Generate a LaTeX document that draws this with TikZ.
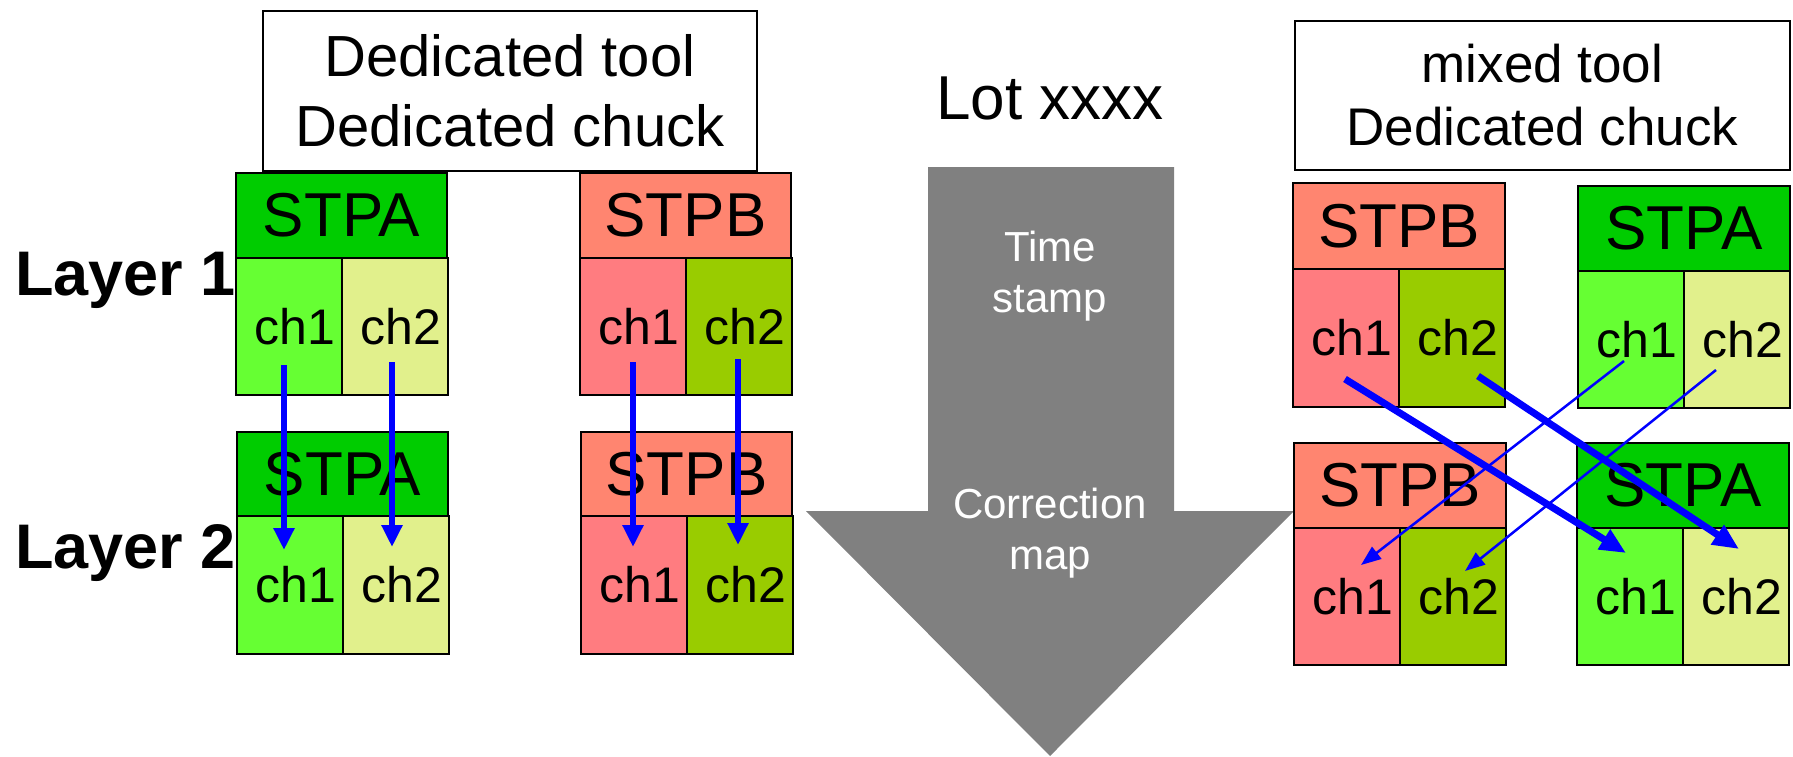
\documentclass[tikz,border=0pt]{standalone}
\usepackage{fontspec}
\setmainfont{Liberation Sans}
\usetikzlibrary{arrows.meta}
\definecolor{hdrA}{HTML}{00CC00}
\definecolor{chAone}{HTML}{66FF33}
\definecolor{chAtwo}{HTML}{E1F08C}
\definecolor{hdrB}{HTML}{FF8570}
\definecolor{chBone}{HTML}{FF7C80}
\definecolor{chBtwo}{HTML}{99CC00}
\definecolor{arrgray}{HTML}{808080}
\definecolor{pureblue}{HTML}{0000FF}
\begin{document}
\begin{tikzpicture}[x=1pt,y=-1pt,
  frame/.style={draw=black, line width=2.5pt, inner sep=0pt, outer sep=0pt},
  hdr/.style={frame, minimum width=211pt, minimum height=85pt, font=\fontsize{62}{74}\selectfont},
  cellbox/.style={frame, minimum width=106pt, minimum height=137pt, font=\fontsize{50}{60}\selectfont,
    execute at begin node={\hspace*{12pt}}},
  titlebox/.style={draw=black, line width=1.5pt, inner sep=0pt, align=center},
  layer/.style={font=\bfseries\fontsize{63}{75}\selectfont, inner sep=0pt, anchor=base east},
  graylabel/.style={text=white, align=center, font=\fontsize{42}{51}\selectfont, inner sep=0pt},
  vblue/.style={draw=pureblue, line width=6pt, -{Triangle[length=22pt,width=20pt]}},
  thickblue/.style={draw=pureblue, line width=7pt, -{Triangle[length=26pt,width=22pt]}},
  thinblue/.style={draw=pureblue, line width=2.5pt, -{Triangle[length=20pt,width=15pt]}}
]
\useasboundingbox (0,0) rectangle (1793,756);

% big gray arrow
\fill[arrgray] (928,167) -- (1174,167) -- (1174,511) -- (1294,511) -- (1050,756) -- (806,511) -- (928,511) -- cycle;
\node[graylabel] (ts) at (1050,276) {Time\\stamp};
\node[graylabel] (cm) at (1050,533) {Correction\\map};
\node[inner sep=0pt, font=\fontsize{62}{74}\selectfont] (lot) at (1050,98) {Lot xxxx};

% title boxes
\node[titlebox, minimum width=494pt, minimum height=160pt, font=\fontsize{58}{70}\selectfont] (ded) at (510,91) {Dedicated tool\\Dedicated chuck};
\node[titlebox, minimum width=495pt, minimum height=149pt, font=\fontsize{53}{63}\selectfont] (mix) at (1542.5,95.5) {mixed tool\\Dedicated chuck};

% layer labels
\node[layer] (l1) at (236,295) {Layer 1};
\node[layer] (l2) at (236,568) {Layer 2};

% ---- left: dedicated ----
% layer 1
\node[hdr, fill=hdrA] (a1h) at (341.5,215.5) {STPA};
\node[cellbox, fill=chAone] (a1c1) at (289,326.5) {ch1};
\node[cellbox, fill=chAtwo] (a1c2) at (395,326.5) {ch2};
\node[hdr, fill=hdrB] (b1h) at (685.5,215.5) {STPB};
\node[cellbox, fill=chBone] (b1c1) at (633,326.5) {ch1};
\node[cellbox, fill=chBtwo] (b1c2) at (739,326.5) {ch2};
% layer 2
\node[hdr, fill=hdrA, minimum height=84pt] (a2h) at (342.5,474) {STPA};
\node[cellbox, fill=chAone, minimum height=138pt] (a2c1) at (290,585) {ch1};
\node[cellbox, fill=chAtwo, minimum height=138pt] (a2c2) at (396,585) {ch2};
\node[hdr, fill=hdrB, minimum height=84pt] (b2h) at (686.5,474) {STPB};
\node[cellbox, fill=chBone, minimum height=138pt] (b2c1) at (634,585) {ch1};
\node[cellbox, fill=chBtwo, minimum height=138pt] (b2c2) at (740,585) {ch2};

% ---- right: mixed ----
\node[hdr, fill=hdrB, minimum width=212pt, minimum height=86pt] (rb1h) at (1399,226) {STPB};
\node[cellbox, fill=chBone, minimum height=138pt] (rb1c1) at (1346,338) {ch1};
\node[cellbox, fill=chBtwo, minimum height=138pt] (rb1c2) at (1452,338) {ch2};
\node[hdr, fill=hdrA, minimum width=212pt] (ra1h) at (1684,228.5) {STPA};
\node[cellbox, fill=chAone] (ra1c1) at (1631,339.5) {ch1};
\node[cellbox, fill=chAtwo] (ra1c2) at (1737,339.5) {ch2};
\node[hdr, fill=hdrB, minimum width=212pt] (rb2h) at (1400,485.5) {STPB};
\node[cellbox, fill=chBone] (rb2c1) at (1347,596.5) {ch1};
\node[cellbox, fill=chBtwo] (rb2c2) at (1453,596.5) {ch2};
\node[hdr, fill=hdrA, minimum width=212pt] (ra2h) at (1683,485.5) {STPA};
\node[cellbox, fill=chAone] (ra2c1) at (1630,596.5) {ch1};
\node[cellbox, fill=chAtwo] (ra2c2) at (1736,596.5) {ch2};

% connector end points
\coordinate (s1) at (284,365);  \coordinate (e1) at (284,550);
\coordinate (s2) at (392,362);  \coordinate (e2) at (392,547);
\coordinate (s3) at (633,362);  \coordinate (e3) at (633,547);
\coordinate (s4) at (738,359);  \coordinate (e4) at (738,545);
\coordinate (r1s) at (1345,379); \coordinate (r1e) at (1626,553);
\coordinate (r2s) at (1478,376); \coordinate (r2e) at (1739,549);
\coordinate (r3s) at (1624,361); \coordinate (r3e) at (1361,565);
\coordinate (r4s) at (1716,370); \coordinate (r4e) at (1465,571);

\draw[vblue] (s1) -- (e1);
\draw[vblue] (s2) -- (e2);
\draw[vblue] (s3) -- (e3);
\draw[vblue] (s4) -- (e4);
\draw[thickblue] (r1s) -- (r1e);
\draw[thickblue] (r2s) -- (r2e);
\draw[thinblue] (r3s) -- (r3e);
\draw[thinblue] (r4s) -- (r4e);
\end{tikzpicture}
\end{document}
